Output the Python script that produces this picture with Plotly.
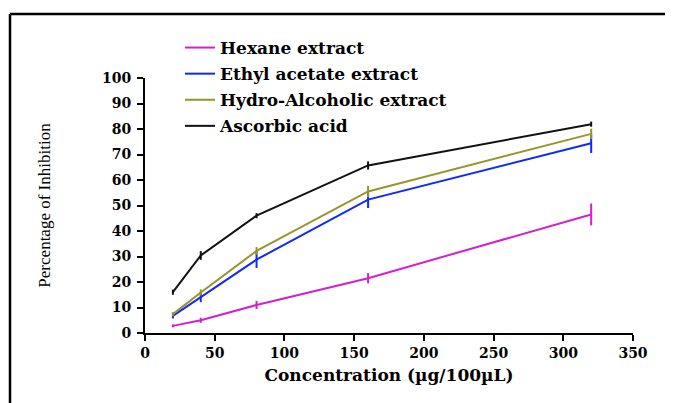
import plotly.graph_objects as go

conc = [20, 40, 80, 160, 320]

series_names = ["Hexane extract", "Ethyl acetate extract", "Hydro-Alcoholic extract", "Ascorbic acid"]
hexane = [2.8, 5.0, 11.0, 21.5, 46.5]
hexane_err = [0.6, 1.0, 1.6, 2.0, 4.3]
ethyl = [6.7, 14.1, 28.8, 52.3, 74.4]
ethyl_err = [1.0, 2.0, 3.3, 3.3, 3.8]
hydro = [7.4, 15.9, 32.2, 55.5, 78.1]
hydro_err = [0.8, 1.2, 1.5, 2.2, 2.0]
ascorbic = [16.0, 30.4, 46.0, 65.7, 81.9]
ascorbic_err = [1.0, 1.7, 1.0, 1.6, 1.0]

colors = ["#D020D0", "#1028FF", "#96962C", "#111111"]

# page is rendered with an 8px body offset; compensate in margins
OFF = 8
W, H = 673, 403
ML, MR, MT, MB = 145 - OFF, 40 + OFF, 78 - OFF, 70 + OFF
pw = W - ML - MR
ph = H - MT - MB

fig = go.Figure()
for i, (name, ys, es) in enumerate(zip(series_names,
                                        [hexane, ethyl, hydro, ascorbic],
                                        [hexane_err, ethyl_err, hydro_err, ascorbic_err])):
    fig.add_trace(go.Scatter(
        x=conc, y=ys, name=name, mode="lines",
        line=dict(color=colors[i], width=2),
        error_y=dict(type="data", array=es, visible=True, width=0,
                     thickness=2, color=colors[i]),
        legendgroup=f"g{i}",
    ))

# page-pixel -> paper coordinates
def px_x(px):
    return (px - OFF - ML) / pw

def px_y(py):
    return (H - MB - (py - OFF)) / ph

fig.update_layout(
    width=W, height=H,
    margin=dict(l=ML, r=MR, t=MT, b=MB, autoexpand=False),
    paper_bgcolor="white", plot_bgcolor="white",
    showlegend=True,
    legend=dict(
        x=px_x(180), y=px_y(30), xanchor="left", yanchor="top",
        font=dict(family="DejaVu Serif", size=17, color="black", weight="bold"),
        bgcolor="rgba(0,0,0,0)", tracegroupgap=1, itemwidth=30,
    ),
    xaxis=dict(
        range=[0, 350], dtick=50, tick0=0, showgrid=False, zeroline=False,
        showline=True, linecolor="black", linewidth=2,
        ticks="outside", ticklen=6, tickwidth=2, tickcolor="black",
        tickfont=dict(family="DejaVu Serif", size=14, color="black", weight="bold"),
        title=dict(text="Concentration (µg/100µL)", standoff=9,
                   font=dict(family="DejaVu Serif", size=17, color="black", weight="bold")),
        automargin=False,
    ),
    yaxis=dict(
        range=[0, 100], dtick=10, tick0=0, showgrid=False, zeroline=False,
        showline=True, linecolor="black", linewidth=2,
        ticks="outside", ticklen=6, tickwidth=2, tickcolor="black",
        ticklabelstandoff=3,
        tickfont=dict(family="DejaVu Serif", size=14, color="black", weight="bold"),
        title=dict(text="Percentage of Inhibition", standoff=47,
                   font=dict(family="Liberation Serif", size=17, color="black")),
        automargin=False,
    ),
    shapes=[
        dict(type="line", xref="paper", yref="paper",
             x0=px_x(10), x1=px_x(10), y0=px_y(430), y1=px_y(14),
             line=dict(color="black", width=2.5)),
        dict(type="line", xref="paper", yref="paper",
             x0=px_x(10), x1=px_x(700), y0=px_y(14), y1=px_y(14),
             line=dict(color="black", width=2.5)),
    ],
)

fig.write_html("out.html")
